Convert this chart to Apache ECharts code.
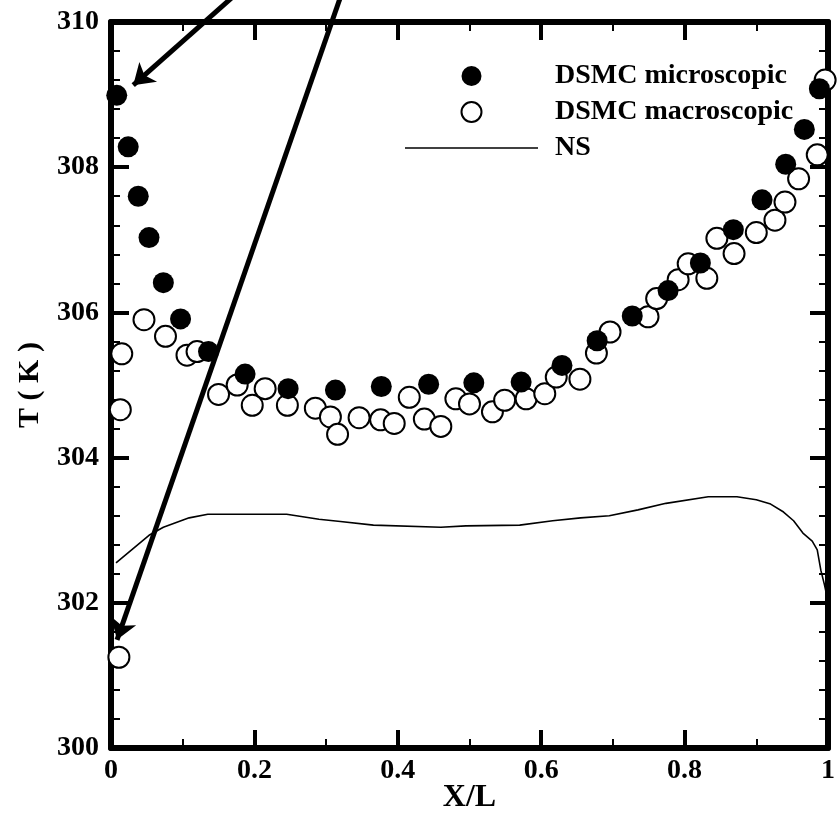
<!DOCTYPE html>
<html>
<head>
<meta charset="utf-8">
<script src="https://cdn.jsdelivr.net/npm/echarts@6/dist/echarts.min.js"></script>
<style>
  html, body { margin: 0; padding: 0; background: #fff; }
  #chart { width: 838px; height: 813px; }
</style>
</head>
<body>
<div id="chart"></div>
<script>
// DSMC microscopic (filled circles)
const xMicro = [0.008, 0.024, 0.038, 0.053, 0.073, 0.097, 0.136, 0.187, 0.247, 0.313, 0.377, 0.443,
  0.506, 0.572, 0.629, 0.678, 0.727, 0.777, 0.822, 0.868, 0.908, 0.941, 0.967, 0.988]
const tMicro = [308.99, 308.28, 307.60, 307.03, 306.41, 305.91, 305.46, 305.15, 304.95, 304.93, 304.98, 305.01,
  305.03, 305.04, 305.27, 305.61, 305.95, 306.30, 306.68, 307.14, 307.55, 308.04, 308.52, 309.08]

// DSMC macroscopic (open circles)
const xMacro = [0.011, 0.013, 0.015, 0.046, 0.076, 0.106, 0.120, 0.150, 0.176, 0.197, 0.215, 0.246,
  0.285, 0.306, 0.316, 0.346, 0.376, 0.395, 0.416, 0.437, 0.460, 0.481, 0.500, 0.532,
  0.549, 0.579, 0.605, 0.621, 0.654, 0.677, 0.696, 0.749, 0.761, 0.791, 0.805, 0.831,
  0.845, 0.869, 0.900, 0.926, 0.940, 0.959, 0.985, 0.996]
const tMacro = [301.25, 304.66, 305.43, 305.90, 305.67, 305.41, 305.46, 304.87, 305.00, 304.72, 304.95, 304.72,
  304.68, 304.56, 304.32, 304.55, 304.52, 304.47, 304.83, 304.53, 304.43, 304.81, 304.74, 304.63,
  304.79, 304.81, 304.88, 305.11, 305.08, 305.44, 305.73, 305.94, 306.19, 306.45, 306.67, 306.47,
  307.02, 306.81, 307.10, 307.27, 307.52, 307.84, 308.17, 309.20]

// NS solution (line)
const xNS = [0.007, 0.053, 0.073, 0.109, 0.135, 0.245, 0.290, 0.320, 0.366, 0.460, 0.495, 0.570,
  0.616, 0.655, 0.695, 0.735, 0.774, 0.833, 0.873, 0.900, 0.920, 0.938, 0.952, 0.965,
  0.978, 0.985, 0.990, 0.995, 0.999]
const tNS = [302.55, 302.93, 303.04, 303.17, 303.22, 303.22, 303.15, 303.12, 303.07, 303.04, 303.06, 303.07,
  303.13, 303.17, 303.20, 303.28, 303.37, 303.46, 303.46, 303.42, 303.36, 303.25, 303.13, 302.96,
  302.85, 302.73, 302.45, 302.25, 302.07]

// annotation arrows: [x start, T start, x tip, T tip]
const arrows = [
  [0.176, 310.4, 0.031, 309.13],
  [0.322, 310.4, 0.0084, 301.49]
]

const zip = (xs, ys) => xs.map((x, i) => [x, ys[i]])

const chart = echarts.init(document.getElementById('chart'))

const serif = 'Liberation Serif, Times New Roman, serif'
const frame = { show: true, onZero: false, lineStyle: { color: '#000', width: 6 } }
const tick = { show: true, inside: true, length: 18, lineStyle: { color: '#000', width: 4 } }

function xAxis(pos, labels) {
  return {
    type: 'value', position: pos, min: 0, max: 1, interval: 0.2,
    axisLine: frame, axisTick: tick,
    minorTick: { show: true, splitNumber: 2, length: 9, lineStyle: { color: '#000', width: 2 } },
    splitLine: { show: false },
    axisLabel: { show: labels, color: '#000', fontFamily: serif, fontWeight: 'bold', fontSize: 28, margin: 9 },
    name: labels ? 'X/L' : '', nameLocation: 'middle', nameGap: 34, nameMoveOverlap: false,
    nameTextStyle: { color: '#000', fontFamily: serif, fontWeight: 'bold', fontSize: 32, verticalAlign: 'top', lineHeight: 32 }
  }
}

function yAxis(pos, labels) {
  return {
    type: 'value', position: pos, min: 300, max: 310, interval: 2,
    axisLine: frame, axisTick: tick,
    minorTick: { show: true, splitNumber: 5, length: 9, lineStyle: { color: '#000', width: 2 } },
    splitLine: { show: false },
    axisLabel: { show: labels, color: '#000', fontFamily: serif, fontWeight: 'bold', fontSize: 28, margin: 12 },
    name: labels ? 'T ( K )' : '', nameLocation: 'middle', nameGap: 66, nameMoveOverlap: false,
    nameTextStyle: { color: '#000', fontFamily: serif, fontWeight: 'bold', fontSize: 30 }
  }
}

const option = {
  animation: false,
  backgroundColor: '#fff',
  grid: { left: 111, right: 10, top: 22, bottom: 65, outerBoundsMode: 'none' },
  xAxis: [xAxis('bottom', true), xAxis('top', false)],
  yAxis: [yAxis('left', true), yAxis('right', false)],
  legend: {
    data: [
      { name: 'DSMC microscopic' },
      { name: 'DSMC macroscopic' },
      { name: 'NS', icon: 'path://M0,0H100V1.2H0Z' }
    ],
    orient: 'vertical', left: 400, top: 57,
    itemWidth: 133, itemHeight: 20, itemGap: 8,
    textStyle: { color: '#000', fontFamily: serif, fontWeight: 'bold', fontSize: 28, padding: [0, 0, 0, 12] }
  },
  series: [
    {
      name: 'DSMC macroscopic', type: 'scatter', symbol: 'circle', symbolSize: 21,
      itemStyle: { color: '#fff', borderColor: '#000', borderWidth: 2, opacity: 1 },
      data: zip(xMacro, tMacro)
    },
    {
      name: 'DSMC microscopic', type: 'scatter', symbol: 'circle', symbolSize: 21,
      itemStyle: { color: '#000', opacity: 1 },
      data: zip(xMicro, tMicro)
    },
    {
      name: 'NS', type: 'line', symbol: 'none', showSymbol: false,
      lineStyle: { color: '#000', width: 1.6 },
      itemStyle: { color: '#000' },
      data: zip(xNS, tNS)
    },
    {
      type: 'lines', coordinateSystem: 'cartesian2d', clip: false, silent: true, z: 10,
      symbol: ['none', 'arrow'], symbolSize: 20,
      lineStyle: { color: '#000', width: 5, opacity: 1 },
      data: arrows.map(a => ({ coords: [[a[0], a[1]], [a[2], a[3]]] }))
    }
  ]
}

chart.setOption(option)
</script>
</body>
</html>
